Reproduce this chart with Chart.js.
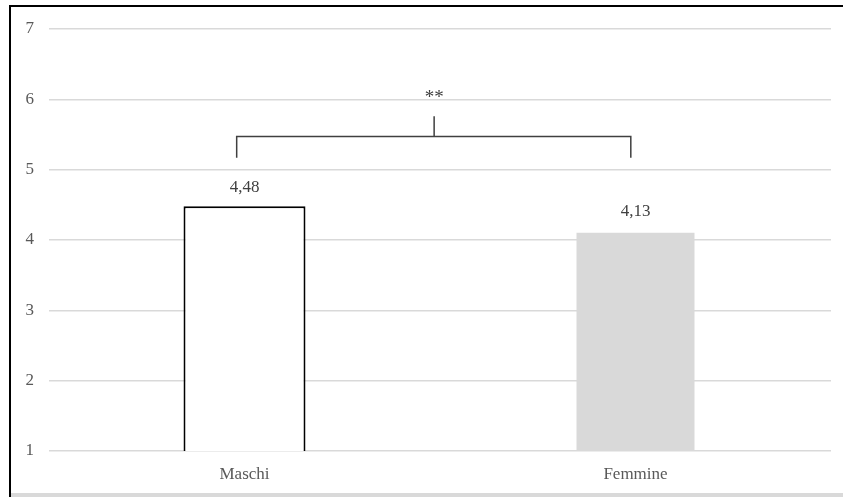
<!DOCTYPE html>
<html>
<head>
<meta charset="utf-8">
<script src="https://cdn.jsdelivr.net/npm/chart.js@4"></script>
<style>
  html, body { margin: 0; padding: 0; background: #fff; }
  #wrap { position: relative; width: 843px; height: 497px; overflow: hidden; }
  #frameTop { position: absolute; left: 9px; top: 5px; width: 834px; height: 2px; background: #000; }
  #frameLeft { position: absolute; left: 9px; top: 5px; width: 2px; height: 492px; background: #000; }
  #frameBottom { position: absolute; left: 11px; top: 493px; width: 832px; height: 4px; background: #d9d9d9; }
</style>
</head>
<body>
<div id="wrap">
  <canvas id="chart" width="843" height="497"></canvas>
  <div id="frameTop"></div>
  <div id="frameLeft"></div>
  <div id="frameBottom"></div>
</div>
<script>
// Chart data
const categories = ["Maschi", "Femmine"];
const means = [4.48, 4.13];
const barColors = ["#ffffff", "#d9d9d9"];
const barBorders = ["#000000", "rgba(0,0,0,0)"];

// Significance bracket (x in category index units, y in scale units)
const bracketX = [-0.02, 0.988];
const bracketMidX = 0.485;
const bracketLegY = 5.17;
const bracketY = 5.47;
const bracketTopY = 5.76;
const starsY = 6.06;
const starsText = "**";

const serif = "'Liberation Serif', 'Times New Roman', serif";

// Draws the value labels above the bars
const valueLabels = {
  id: "valueLabels",
  afterDatasetsDraw(chart) {
    const ctx = chart.ctx;
    const meta = chart.getDatasetMeta(0);
    ctx.save();
    ctx.font = "17px " + serif;
    ctx.fillStyle = "#404040";
    ctx.textAlign = "center";
    ctx.textBaseline = "middle";
    meta.data.forEach((bar, i) => {
      const txt = means[i].toFixed(2).replace(".", ",");
      ctx.fillText(txt, bar.x, bar.y - 19);
    });
    ctx.restore();
  },
};

// Draws the ** bracket between the two bars
const sigBracket = {
  id: "sigBracket",
  afterDatasetsDraw(chart) {
    const ctx = chart.ctx;
    const xs = chart.scales.x;
    const ys = chart.scales.y;
    const x1 = xs.getPixelForValue(bracketX[0]);
    const x2 = xs.getPixelForValue(bracketX[1]);
    const xm = xs.getPixelForValue(bracketMidX);
    const yLeg = ys.getPixelForValue(bracketLegY);
    const yBar = ys.getPixelForValue(bracketY);
    const yTop = ys.getPixelForValue(bracketTopY);
    ctx.save();
    ctx.strokeStyle = "#404040";
    ctx.lineWidth = 1.5;
    ctx.beginPath();
    ctx.moveTo(x1, yLeg);
    ctx.lineTo(x1, yBar);
    ctx.lineTo(x2, yBar);
    ctx.lineTo(x2, yLeg);
    ctx.moveTo(xm, yBar);
    ctx.lineTo(xm, yTop);
    ctx.stroke();
    ctx.font = "19px " + serif;
    ctx.fillStyle = "#404040";
    ctx.textAlign = "center";
    ctx.textBaseline = "middle";
    ctx.fillText(starsText, xm, ys.getPixelForValue(starsY) + 3);
    ctx.restore();
  },
};

new Chart(document.getElementById("chart"), {
  type: "bar",
  data: {
    labels: categories,
    datasets: [
      {
        data: means,
        backgroundColor: barColors,
        borderColor: barBorders,
        borderWidth: 2,
        categoryPercentage: 1,
        barPercentage: 0.312,
      },
    ],
  },
  options: {
    responsive: false,
    animation: false,
    layout: { padding: { left: 0, right: 12, top: 29, bottom: 0 } },
    plugins: {
      legend: { display: false },
      tooltip: { enabled: false },
    },
    scales: {
      x: {
        grid: { display: false, drawTicks: false },
        border: { display: false },
        ticks: {
          padding: 13,
          color: "#595959",
          font: { family: serif, size: 17 },
        },
        afterFit(scale) {
          scale.height = 46;
        },
      },
      y: {
        min: 1,
        max: 7,
        ticks: {
          stepSize: 1,
          padding: 15,
          color: "#595959",
          font: { family: serif, size: 17 },
        },
        grid: { color: "#d9d9d9", lineWidth: 1.5, drawTicks: false },
        border: { display: false },
        afterFit(scale) {
          scale.width = 49;
        },
      },
    },
  },
  plugins: [valueLabels, sigBracket],
});
</script>
</body>
</html>
